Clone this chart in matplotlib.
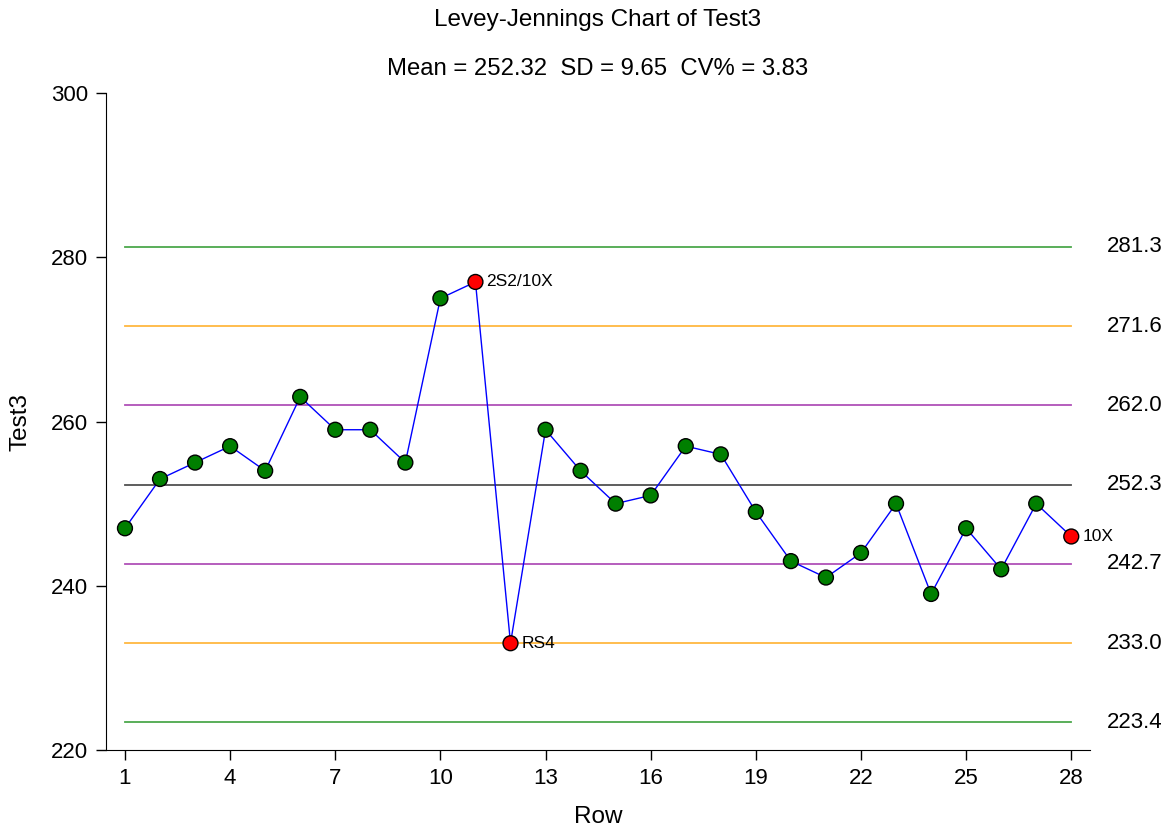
import matplotlib
matplotlib.use("Agg")
import matplotlib.pyplot as plt
import matplotlib.transforms as mtransforms

plt.rcParams["font.family"] = ["Liberation Sans", "DejaVu Sans"]

rows = list(range(1, 29))
test3 = [247, 253, 255, 257, 254, 263, 259, 259, 255, 275, 277, 233, 259, 254,
         250, 251, 257, 256, 249, 243, 241, 244, 250, 239, 247, 242, 250, 246]
flag_rows = [11, 12, 28]
flag_labels = ["2S2/10X", "RS4", "10X"]

mean, sd, cv = 252.32, 9.65, 3.83
limit_vals = [223.4, 233.0, 242.7, 252.3, 262.0, 271.6, 281.3]
limit_colors = ["#4CA84C", "#FFB840", "#B050B8", "#505050", "#B050B8", "#FFB840", "#4CA84C"]

fig = plt.figure(figsize=(11.71, 8.31), dpi=100)
ax = fig.add_axes([0.0905, 0.0975, 0.8405, 0.7905])

for v, c in zip(limit_vals, limit_colors):
    ax.plot([rows[0], rows[-1]], [v, v], color=c, lw=1.3, zorder=1)

ax.plot(rows, test3, color="#0000FF", lw=1, zorder=2)
colors = ["#FF0000" if r in flag_rows else "#007F00" for r in rows]
ax.scatter(rows, test3, s=115, c=colors, edgecolors="black", linewidths=1, zorder=3)

for r, lab in zip(flag_rows, flag_labels):
    ax.annotate(lab, (r, test3[r - 1]), xytext=(8, 0), textcoords="offset points",
                va="center", ha="left", fontsize=12.5)

trans = mtransforms.blended_transform_factory(ax.transAxes, ax.transData)
for v in limit_vals:
    ax.text(1.045, v, f"{v:.1f}", transform=trans, ha="center", va="center",
            fontsize=16)

ax.set_xlim(0.458, 28.54)
ax.set_ylim(220, 300)
ax.set_xticks(range(1, 29, 3))
ax.set_yticks(range(220, 301, 20))
ax.tick_params(labelsize=16, length=7, width=1, pad=6)
for s in ("top", "right"):
    ax.spines[s].set_visible(False)
ax.set_xlabel("Row", fontsize=17.5, labelpad=12)
ax.set_ylabel("Test3", fontsize=17.5, labelpad=14)

fig.text(0.510, 0.976, "Levey-Jennings Chart of Test3", ha="center", va="center", fontsize=17.5)
fig.text(0.510, 0.917, f"Mean = {mean:.2f}  SD = {sd:.2f}  CV% = {cv:.2f}",
         ha="center", va="center", fontsize=17.2)

fig.savefig("out.png", dpi=100)
